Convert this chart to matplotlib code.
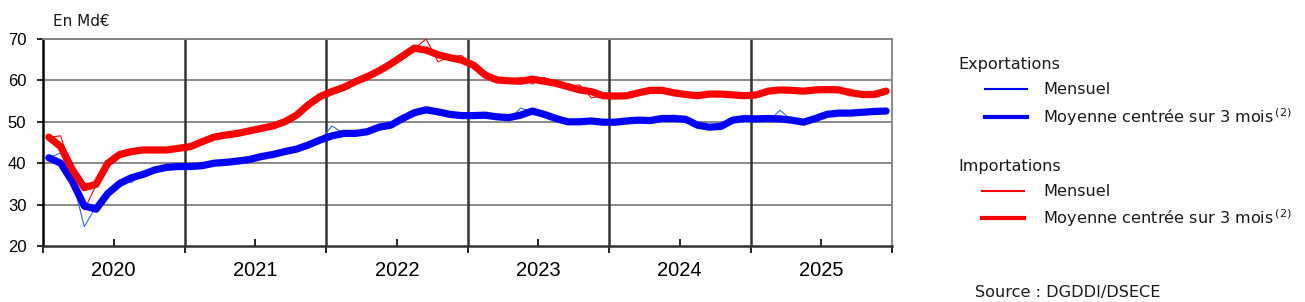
import matplotlib
matplotlib.use("Agg")
import matplotlib.pyplot as plt
from matplotlib.lines import Line2D
from matplotlib.ticker import FixedLocator, NullFormatter

years = ["2020", "2021", "2022", "2023", "2024", "2025"]

exp_mensuel = [
    41.3, 42.5, 36.0, 24.7, 29.5, 33.0, 35.9, 35.3, 37.5, 38.5, 39.0, 39.3,
    39.2, 39.5, 40.0, 40.9, 40.0, 41.0, 41.6, 42.1, 42.8, 43.4, 44.4, 45.5,
    49.0, 47.2, 47.3, 47.6, 48.7, 49.2, 50.0, 52.3, 53.0, 52.4, 51.8, 51.4,
    51.6, 51.5, 51.0, 50.4, 53.3, 52.5, 51.8, 50.8, 50.0, 50.0, 50.2, 49.9,
    49.2, 50.2, 50.4, 50.3, 50.8, 51.6, 50.6, 49.2, 48.3, 48.9, 50.4, 51.5,
    50.7, 50.0, 52.8, 50.4, 49.9, 50.8, 51.8, 52.1, 52.1, 52.3, 52.5, 52.6,
]
exp_moyenne = [
    41.3, 40.0, 35.5, 29.7, 28.9, 32.7, 35.1, 36.5, 37.3, 38.4, 39.0, 39.2,
    39.2, 39.4, 40.0, 40.2, 40.5, 40.9, 41.6, 42.1, 42.8, 43.4, 44.4, 45.6,
    46.6, 47.2, 47.2, 47.6, 48.7, 49.2, 50.8, 52.2, 52.9, 52.4, 51.8, 51.5,
    51.5, 51.6, 51.2, 51.0, 51.6, 52.6, 51.8, 50.8, 50.0, 50.0, 50.2, 49.9,
    49.9, 50.2, 50.4, 50.3, 50.8, 50.8, 50.6, 49.2, 48.7, 48.9, 50.4, 50.8,
    50.7, 50.8, 50.7, 50.4, 49.9, 50.8, 51.8, 52.1, 52.1, 52.3, 52.5, 52.6,
]
imp_mensuel = [
    46.3, 46.6, 37.5, 28.7, 34.7, 40.0, 42.1, 42.8, 43.2, 43.2, 43.2, 43.6,
    44.0, 45.2, 46.3, 46.8, 47.2, 47.8, 48.4, 49.0, 50.0, 51.6, 54.1, 56.1,
    57.3, 58.3, 59.7, 60.9, 62.3, 64.0, 65.9, 67.7, 70.0, 64.5, 65.7, 66.0,
    63.5, 61.3, 60.1, 59.9, 60.7, 59.1, 60.7, 59.3, 58.5, 58.9, 55.8, 56.3,
    56.2, 56.3, 57.0, 57.6, 57.6, 57.0, 56.6, 56.3, 56.7, 56.7, 56.5, 56.3,
    56.5, 57.4, 58.3, 57.6, 57.4, 58.3, 57.8, 57.7, 57.9, 55.8, 56.6, 57.4,
]
imp_moyenne = [
    46.3, 44.0, 38.4, 34.1, 34.9, 40.0, 42.1, 42.8, 43.2, 43.2, 43.2, 43.6,
    44.0, 45.2, 46.3, 46.8, 47.2, 47.8, 48.4, 49.0, 50.0, 51.6, 54.1, 56.1,
    57.3, 58.3, 59.7, 60.9, 62.3, 64.0, 65.9, 67.8, 67.3, 66.2, 65.5, 64.9,
    63.7, 61.3, 60.1, 59.9, 59.8, 60.3, 59.8, 59.3, 58.5, 57.7, 57.3, 56.3,
    56.2, 56.3, 57.0, 57.6, 57.6, 57.0, 56.6, 56.3, 56.7, 56.7, 56.5, 56.3,
    56.5, 57.4, 57.7, 57.6, 57.4, 57.7, 57.8, 57.7, 57.0, 56.6, 56.6, 57.4,
]
y_ticks = [20, 30, 40, 50, 60, 70]

BLUE = "#0000FF"
BLUE_THIN = "#3366FF"
RED = "#FF0000"
GRID = "#808080"
DARK = "#333333"
TXT = "#1a1a1a"

plt.rcParams["font.family"] = ["Liberation Sans", "DejaVu Sans"]

fig = plt.figure(figsize=(13.05, 3.02), dpi=100)
ax = fig.add_axes([43 / 1305, 1 - 246 / 302, (892 - 43) / 1305, (246 - 39) / 302])

n = len(exp_moyenne)
x = [i + 0.5 for i in range(n)]

ax.set_xlim(0, 12 * len(years))
ax.set_ylim(20, 70)

for yv in y_ticks[1:]:
    ax.axhline(yv, color=GRID, lw=1.3, zorder=1)
for k in range(1, len(years)):
    ax.axvline(12 * k, color=DARK, lw=1.8, zorder=1)

ax.plot(x, exp_mensuel, color=BLUE_THIN, lw=0.8, zorder=3)
ax.plot(x, imp_mensuel, color=RED, lw=0.8, zorder=3)
ax.plot(x, exp_moyenne, color=BLUE, lw=5.2, zorder=4, solid_capstyle="round", solid_joinstyle="round")
ax.plot(x, imp_moyenne, color=RED, lw=5.2, zorder=4, solid_capstyle="round", solid_joinstyle="round")

for side in ["top", "right"]:
    ax.spines[side].set_color(GRID)
    ax.spines[side].set_linewidth(1.3)
ax.spines["left"].set_color("black")
ax.spines["left"].set_linewidth(1.8)
ax.spines["bottom"].set_color(DARK)
ax.spines["bottom"].set_linewidth(1.8)

ax.set_yticks(y_ticks)
ax.set_yticklabels([str(v) for v in y_ticks], fontsize=12)
ax.tick_params(axis="y", direction="out", length=4, width=1.2, pad=8)

ax.xaxis.set_major_locator(FixedLocator([12 * k for k in range(len(years) + 1)]))
ax.xaxis.set_major_formatter(NullFormatter())
ax.xaxis.set_minor_locator(FixedLocator([12 * k + 6 for k in range(len(years))]))
ax.set_xticklabels(years, minor=True, fontsize=14.5)
ax.tick_params(axis="x", which="major", direction="out", length=5, width=1.2)
ax.tick_params(axis="x", which="minor", direction="in", length=5, width=1.2, pad=11)

LF = ["DejaVu Sans"]
FS = 11.6

fig.text(53 / 1305, 1 - 21 / 302, "En Md€", fontsize=11, family=LF, va="center", ha="left", color=TXT)

def leg_line(y, color, lw, x0=985, x1=1027):
    fig.add_artist(Line2D([x0 / 1305, x1 / 1305], [1 - y / 302, 1 - y / 302],
                          color=color, lw=lw, transform=fig.transFigure))

fig.text(958 / 1305, 1 - 65 / 302, "Exportations", fontsize=FS, family=LF, va="center", color=TXT)
leg_line(89, BLUE, 1.5)
fig.text(1043 / 1305, 1 - 90 / 302, "Mensuel", fontsize=FS, family=LF, va="center", color=TXT)
leg_line(117, BLUE, 3.0)
fig.text(1043 / 1305, 1 - 117 / 302, r"Moyenne centrée sur 3 mois$^{\,(2)}$",
         fontsize=FS, family=LF, va="center", color=TXT)

fig.text(958 / 1305, 1 - 166 / 302, "Importations", fontsize=FS, family=LF, va="center", color=TXT)
leg_line(191, RED, 1.5, 982, 1024)
fig.text(1043 / 1305, 1 - 191 / 302, "Mensuel", fontsize=FS, family=LF, va="center", color=TXT)
leg_line(218, RED, 3.0, 982, 1024)
fig.text(1043 / 1305, 1 - 218 / 302, r"Moyenne centrée sur 3 mois$^{\,(2)}$",
         fontsize=FS, family=LF, va="center", color=TXT)

fig.text(975 / 1305, 1 - 292 / 302, "Source : DGDDI/DSECE", fontsize=FS, family=LF, va="center", color=TXT)

fig.savefig("out.png", dpi=100)
